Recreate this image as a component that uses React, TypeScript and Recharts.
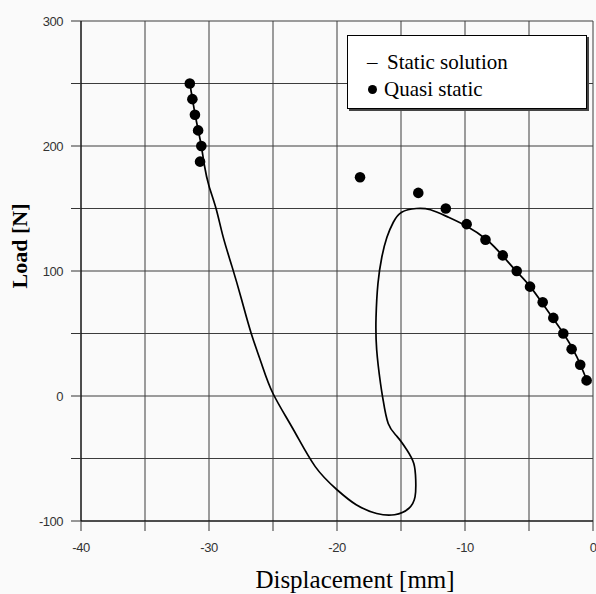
import {
  ScatterChart,
  Scatter,
  XAxis,
  YAxis,
  CartesianGrid,
  Label,
} from "recharts";

// Static solution path (displacement mm, load N), traced along the loop
const STATIC_X = [
  -31.5, -31.3, -31.1, -30.85, -30.6, -30.35, -30.0, -29.45, -28.9, -28.2,
  -27.45, -26.7, -25.9, -25.0, -23.4, -21.7, -20.0, -18.5, -16.9,
  -15.5, -14.4, -13.9, -13.85, -14.0, -14.55, -15.3, -16.0, -16.4, -16.6,
  -16.9, -16.95, -16.8, -16.5, -16.1, -15.6, -14.95, -13.8, -12.7, -11.4,
  -9.9, -8.3, -7.0, -5.96, -4.9, -3.6, -2.3, -1.27, -0.5,
];
const STATIC_Y = [
  250, 238, 226, 213, 200, 184, 168, 150, 127.5, 103.5,
  77, 50, 26, 2, -27, -56.5, -75, -87, -94,
  -95, -90, -80.5, -67, -54, -43, -32.5, -22, -3, 10,
  37, 63, 90, 111, 127, 139, 147, 150, 149, 143.5,
  136, 125, 111.5, 99.5, 87.5, 69, 50, 31.5, 13,
];

// Quasi static load steps
const QUASI_X = [
  -31.5, -31.3, -31.1, -30.85, -30.6, -30.7,
  -18.2, -13.65, -11.5, -9.87, -8.4, -7.05, -5.96, -4.92, -3.93, -3.1,
  -2.32, -1.67, -1.0, -0.5,
];
const QUASI_Y = [
  250, 237.5, 225, 212.5, 200, 187.5,
  175, 162.5, 150, 137.5, 125, 112.5, 100, 87.5, 75, 62.5,
  50, 37.5, 25, 12.5,
];

const X_TICKS = [-40, -35, -30, -25, -20, -15, -10, -5, 0];
const Y_TICKS = [-100, -50, 0, 50, 100, 150, 200, 250, 300];

const staticData = STATIC_X.map((x, i) => ({ x, y: STATIC_Y[i] }));
const quasiData = QUASI_X.map((x, i) => ({ x, y: QUASI_Y[i] }));

const BG = "#fafafa";
const SERIF = "'Liberation Serif', 'Times New Roman', serif";
const tickStyle = {
  fontSize: 13,
  fontFamily: "'Liberation Sans', Arial, sans-serif",
  fill: "#333",
  letterSpacing: -0.5,
};

// boxed legend drawn over the upper right of the plot
function LegendBox() {
  return (
    <div
      style={{
        position: "absolute",
        left: 347,
        top: 35,
        width: 240,
        height: 74,
        background: "#fff",
        border: "1.5px solid #000",
        boxShadow: "2px 2px 0 #444",
        fontFamily: SERIF,
        fontSize: 21,
        color: "#000",
        padding: "13px 0 0 19px",
        boxSizing: "border-box",
        lineHeight: "27px",
      }}
    >
      <div>
        <span style={{ display: "inline-block", width: 20 }}>–</span>Static solution
      </div>
      <div>
        <span
          style={{
            display: "inline-block",
            width: 9,
            height: 9,
            borderRadius: 5,
            background: "#000",
            margin: "0 7px 3px 1px",
            verticalAlign: "middle",
          }}
        />
        Quasi static
      </div>
    </div>
  );
}

export default function App() {
  return (
    <div
      style={{
        position: "absolute",
        left: 0,
        top: 0,
        width: 596,
        height: 594,
        background: BG,
      }}
    >
      <ScatterChart
        width={596}
        height={594}
        margin={{ top: 21, right: 3, bottom: 0, left: 0 }}
      >
        <CartesianGrid stroke="#3c3c3c" strokeWidth={1} />
        <XAxis
          type="number"
          dataKey="x"
          domain={[-40, 0]}
          ticks={X_TICKS}
          interval={0}
          height={73}
          tickSize={10}
          tickMargin={12}
          tick={tickStyle}
          tickLine={{ stroke: "#333" }}
          axisLine={{ stroke: "#000" }}
          tickFormatter={(v: number) => (v % 10 === 0 ? String(v) : "")}
        >
          <Label
            value="Displacement [mm]"
            position="insideBottom"
            offset={6}
            dx={18}
            style={{ fontFamily: SERIF, fontSize: 25, fill: "#000" }}
          />
        </XAxis>
        <YAxis
          type="number"
          dataKey="y"
          domain={[-100, 300]}
          ticks={Y_TICKS}
          interval={0}
          width={81}
          tickSize={10}
          tickMargin={8}
          tick={tickStyle}
          tickLine={{ stroke: "#333" }}
          axisLine={{ stroke: "#000" }}
          tickFormatter={(v: number) => (v % 100 === 0 ? String(v) : "")}
        >
          <Label
            value="Load [N]"
            angle={-90}
            position="insideLeft"
            offset={19}
            dy={-25}
            style={{
              fontFamily: SERIF,
              fontSize: 22,
              fontWeight: "bold",
              fill: "#000",
              textAnchor: "middle",
            }}
          />
        </YAxis>
        <Scatter
          name="Static solution"
          data={staticData}
          line={{ stroke: "#000", strokeWidth: 1.7 }}
          lineJointType="natural"
          shape={() => <g />}
          isAnimationActive={false}
        />
        <Scatter
          name="Quasi static"
          data={quasiData}
          fill="#000"
          shape={(p: any) => <circle cx={p.cx} cy={p.cy} r={5.3} fill="#000" />}
          isAnimationActive={false}
        />
      </ScatterChart>
      <LegendBox />
    </div>
  );
}
